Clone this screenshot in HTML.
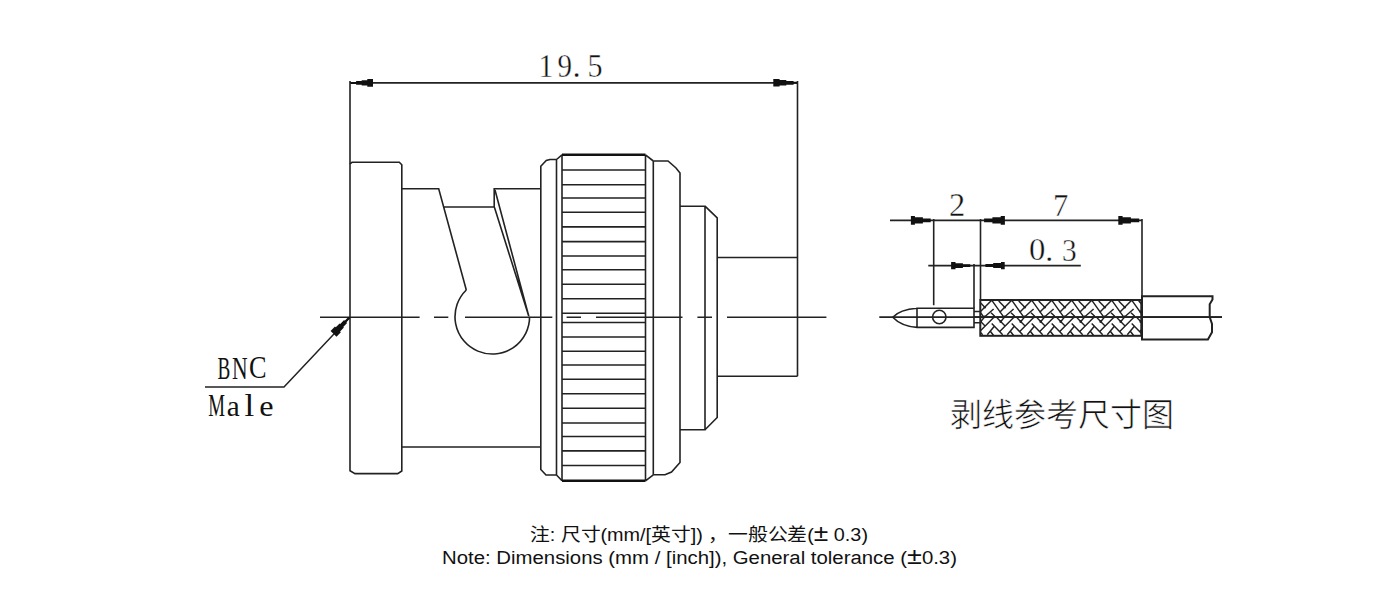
<!DOCTYPE html>
<html><head><meta charset="utf-8">
<style>
html,body{margin:0;padding:0;background:#fff;width:1400px;height:600px;overflow:hidden}
svg{position:absolute;left:0;top:0}
.note{position:absolute;left:0;width:1400px;text-align:center;font-family:"Liberation Sans",sans-serif;color:#222;white-space:pre}
</style></head><body>
<svg width="1400" height="600" viewBox="0 0 1400 600">
<defs>
</defs>
<g fill="none" stroke="#222" stroke-width="1.6" stroke-linecap="butt" stroke-linejoin="miter">
<!-- top dimension -->
<path d="M350,81 V164 M797.5,81 V376.3 M350,82.9 H797.5"/>
<!-- left block -->
<path d="M350,164 L352,162.3 H399.3 L401.8,164.8 V471 L397.7,473.6 H355 L350,470.7 Z"/>
<!-- body -->
<path d="M402,188.8 H438.7 L466.3,290 M444.2,207 H494.2 V188.8 H540.8 M495,190 L528.8,316.3 M494.5,207.5 L528.8,316.3 M402,447 H540.8"/>
<path d="M466.3,290 A37.3,37.3 0 1 0 529.6,316.7"/>
<!-- coupling nut -->
<path d="M556.5,159.5 H550 L546.25,160.5 L540.8,166.25 V469.5 L546,475 H556.5 M556.5,159.5 V475 M556.5,159.5 L562,154.8 M556.5,475 L562,480.8"/>
<path d="M562,154.8 V480.8 M645.5,154.8 V480.8 M645.5,154.8 L653.3,161 M645.5,480.8 L653.3,474.8 M653.3,161 V474.8"/>
<path d="M653.3,161 H668 L676,168 L680,173 V462.5 L671.5,472 L665,474.8 H653.3"/>
<!-- right end -->
<path d="M680,206.2 H705 V429.7 H680 M705,206.2 L717.2,217.8 V417.5 L705,429.7 M717.2,257.5 H797.5 M717.2,376.3 H797.5"/>
</g>
<!-- knurl -->
<g stroke="#222" stroke-width="1.6" fill="none">
<path d="M562,170.0 H645.5 M562,184.8 H645.5 M562,198.0 H645.5 M562,212.2 H645.5 M562,226.9 H645.5 M562,241.6 H645.5 M562,256.0 H645.5 M562,269.8 H645.5 M562,284.3 H645.5 M562,298.8 H645.5 M562,313.2 H645.5 M562,322.5 H645.5 M562,337.0 H645.5 M562,351.2 H645.5 M562,365.0 H645.5 M562,379.3 H645.5 M562,393.8 H645.5 M562,408.3 H645.5 M562,423.0 H645.5 M562,436.5 H645.5 M562,450.9 H645.5 M562,465.5 H645.5"/>
</g>
<g stroke="#111" stroke-width="2.6"><path d="M562,154.8 H645.5 M562,480.8 H645.5"/></g>
<!-- center line -->
<path stroke="#222" stroke-width="1.6" d="M320,317.2 H419.6 M434,317.2 H448.3 M465,317.2 H552.3 M566.6,317.2 H581 M596,317.2 H682.5 M697.4,317.2 H712 M727,317.2 H826.4"/>
<!-- arrowheads -->
<!-- leader -->
<path fill="none" stroke="#222" stroke-width="1.5" d="M205,387 H284 L349,318"/>
<path fill="#111" transform="translate(349.4,317.6) rotate(134.1)" d="M0.0,-1.1 L5.5,-1.1 L5.5,-2.1 L11.0,-2.1 L11.0,-3.0 L16.5,-3.0 L16.5,-4.1 L22.8,-4.1 L22.8,4.1 L16.5,4.1 L16.5,3.0 L11.0,3.0 L11.0,2.1 L5.5,2.1 L5.5,1.1 L0.0,1.1 Z"/>
<g font-family="Liberation Serif" font-size="100" fill="#111" stroke="#fff" stroke-width="1.2">
<text transform="matrix(0.2986,0,0,0.3288,538.56,77.10)">1</text>
<text transform="matrix(0.2907,0,0,0.3288,557.43,76.77)">9</text>
<text transform="matrix(0.3288,0,0,0.3288,572.54,76.77)">.</text>
<text transform="matrix(0.3012,0,0,0.3288,587.39,76.77)">5</text>
<text transform="matrix(0.3250,0,0,0.3269,948.95,216.00)">2</text>
<text transform="matrix(0.3063,0,0,0.3192,1053.11,215.75)">7</text>
<text transform="matrix(0.3274,0,0,0.3172,1028.94,260.37)">0</text>
<text transform="matrix(0.3172,0,0,0.3172,1045.29,260.68)">.</text>
<text transform="matrix(0.2927,0,0,0.3220,1062.04,260.68)">3</text>
</g>
<g font-family="Liberation Serif" font-size="100" fill="#111">
<text transform="matrix(0.1915,0,0,0.3215,217.53,379.00)">B</text>
<text transform="matrix(0.2164,0,0,0.3215,232.10,379.00)">N</text>
<text transform="matrix(0.2632,0,0,0.3119,248.95,378.38)">C</text>
<text transform="matrix(0.1886,0,0,0.3177,208.18,416.25)">M</text>
<text transform="matrix(0.2923,0,0,0.2990,226.83,415.95)">a</text>
<text transform="matrix(0.3500,0,0,0.3080,244.55,416.25)">l</text>
<text transform="matrix(0.3216,0,0,0.2990,259.31,415.95)">e</text>
</g>
<!-- right drawing -->
<g fill="none" stroke="#222" stroke-width="1.6">
<path d="M890,220.4 H1142 M933.7,219 V305.3 M980.5,219 V300 M1142,219 V296 M928.3,265.6 H1080.8 M974,264 V308.3"/>
<path stroke-width="1.6" d="M879.3,317.1 H1222"/>
<path stroke-width="1.6" d="M917,308.2 C906,309 898,311.5 892.75,317.2 C898,322.8 906,326.5 917,327.4 M917,308.2 H974 V327.4 H917 Z M974,311.5 H980.3 M974,322.8 H980.3"/>
<circle cx="939.3" cy="317" r="6.7" stroke-width="1.6"/>
</g>
<clipPath id="bc"><rect x="980.3" y="300" width="161" height="35.8"/></clipPath>
<g clip-path="url(#bc)" fill="none" stroke="#222"><path stroke-width="1.45" d="M958.7,301.0 L964.8,307.2 M971.7,300.2 L959.5,312.5 M971.7,300.2 L983.8,317.1 M964.8,316.7 L973.6,309.0 M971.0,312.7 L974.7,316.3 M973.9,317.2 L959.5,331.7 M957.0,317.7 L965.5,326.4 M960.7,321.8 L963.8,317.9 M971.7,323.4 L982.7,334.8 M973.9,326.7 L967.3,334.8 M970.3,331.2 L973.6,335.5 M978.7,301.0 L984.8,307.2 M991.7,300.2 L979.5,312.5 M991.7,300.2 L1003.8,317.1 M984.8,316.7 L993.6,309.0 M991.0,312.7 L994.7,316.3 M993.9,317.2 L979.5,331.7 M977.0,317.7 L985.5,326.4 M980.7,321.8 L983.8,317.9 M991.7,323.4 L1002.7,334.8 M993.9,326.7 L987.3,334.8 M990.3,331.2 L993.6,335.5 M998.7,301.0 L1004.8,307.2 M1011.7,300.2 L999.5,312.5 M1011.7,300.2 L1023.8,317.1 M1004.8,316.7 L1013.6,309.0 M1011.0,312.7 L1014.7,316.3 M1013.9,317.2 L999.5,331.7 M997.0,317.7 L1005.5,326.4 M1000.7,321.8 L1003.8,317.9 M1011.7,323.4 L1022.7,334.8 M1013.9,326.7 L1007.3,334.8 M1010.3,331.2 L1013.6,335.5 M1018.7,301.0 L1024.8,307.2 M1031.7,300.2 L1019.5,312.5 M1031.7,300.2 L1043.8,317.1 M1024.8,316.7 L1033.6,309.0 M1031.0,312.7 L1034.7,316.3 M1033.9,317.2 L1019.5,331.7 M1017.0,317.7 L1025.5,326.4 M1020.7,321.8 L1023.8,317.9 M1031.7,323.4 L1042.7,334.8 M1033.9,326.7 L1027.3,334.8 M1030.3,331.2 L1033.6,335.5 M1038.7,301.0 L1044.8,307.2 M1051.7,300.2 L1039.5,312.5 M1051.7,300.2 L1063.8,317.1 M1044.8,316.7 L1053.6,309.0 M1051.0,312.7 L1054.7,316.3 M1053.9,317.2 L1039.5,331.7 M1037.0,317.7 L1045.5,326.4 M1040.7,321.8 L1043.8,317.9 M1051.7,323.4 L1062.7,334.8 M1053.9,326.7 L1047.3,334.8 M1050.3,331.2 L1053.6,335.5 M1058.7,301.0 L1064.8,307.2 M1071.7,300.2 L1059.5,312.5 M1071.7,300.2 L1083.8,317.1 M1064.8,316.7 L1073.6,309.0 M1071.0,312.7 L1074.7,316.3 M1073.9,317.2 L1059.5,331.7 M1057.0,317.7 L1065.5,326.4 M1060.7,321.8 L1063.8,317.9 M1071.7,323.4 L1082.7,334.8 M1073.9,326.7 L1067.3,334.8 M1070.3,331.2 L1073.6,335.5 M1078.7,301.0 L1084.8,307.2 M1091.7,300.2 L1079.5,312.5 M1091.7,300.2 L1103.8,317.1 M1084.8,316.7 L1093.6,309.0 M1091.0,312.7 L1094.7,316.3 M1093.9,317.2 L1079.5,331.7 M1077.0,317.7 L1085.5,326.4 M1080.7,321.8 L1083.8,317.9 M1091.7,323.4 L1102.7,334.8 M1093.9,326.7 L1087.3,334.8 M1090.3,331.2 L1093.6,335.5 M1098.7,301.0 L1104.8,307.2 M1111.7,300.2 L1099.5,312.5 M1111.7,300.2 L1123.8,317.1 M1104.8,316.7 L1113.6,309.0 M1111.0,312.7 L1114.7,316.3 M1113.9,317.2 L1099.5,331.7 M1097.0,317.7 L1105.5,326.4 M1100.7,321.8 L1103.8,317.9 M1111.7,323.4 L1122.7,334.8 M1113.9,326.7 L1107.3,334.8 M1110.3,331.2 L1113.6,335.5 M1118.7,301.0 L1124.8,307.2 M1131.7,300.2 L1119.5,312.5 M1131.7,300.2 L1143.8,317.1 M1124.8,316.7 L1133.6,309.0 M1131.0,312.7 L1134.7,316.3 M1133.9,317.2 L1119.5,331.7 M1117.0,317.7 L1125.5,326.4 M1120.7,321.8 L1123.8,317.9 M1131.7,323.4 L1142.7,334.8 M1133.9,326.7 L1127.3,334.8 M1130.3,331.2 L1133.6,335.5 M1138.7,301.0 L1144.8,307.2 M1151.7,300.2 L1139.5,312.5 M1151.7,300.2 L1163.8,317.1 M1144.8,316.7 L1153.6,309.0 M1151.0,312.7 L1154.7,316.3 M1153.9,317.2 L1139.5,331.7 M1137.0,317.7 L1145.5,326.4 M1140.7,321.8 L1143.8,317.9 M1151.7,323.4 L1162.7,334.8 M1153.9,326.7 L1147.3,334.8 M1150.3,331.2 L1153.6,335.5"/><path stroke-width="2.6" stroke-linecap="round" d="M964.8,307.2 h0.01 M971.7,299.8 h0.01 M960.7,321.8 h0.01 M964.4,316.9 h0.01 M973.9,317.0 h0.01 M984.8,307.2 h0.01 M991.7,299.8 h0.01 M980.7,321.8 h0.01 M984.4,316.9 h0.01 M993.9,317.0 h0.01 M1004.8,307.2 h0.01 M1011.7,299.8 h0.01 M1000.7,321.8 h0.01 M1004.4,316.9 h0.01 M1013.9,317.0 h0.01 M1024.8,307.2 h0.01 M1031.7,299.8 h0.01 M1020.7,321.8 h0.01 M1024.4,316.9 h0.01 M1033.9,317.0 h0.01 M1044.8,307.2 h0.01 M1051.7,299.8 h0.01 M1040.7,321.8 h0.01 M1044.4,316.9 h0.01 M1053.9,317.0 h0.01 M1064.8,307.2 h0.01 M1071.7,299.8 h0.01 M1060.7,321.8 h0.01 M1064.4,316.9 h0.01 M1073.9,317.0 h0.01 M1084.8,307.2 h0.01 M1091.7,299.8 h0.01 M1080.7,321.8 h0.01 M1084.4,316.9 h0.01 M1093.9,317.0 h0.01 M1104.8,307.2 h0.01 M1111.7,299.8 h0.01 M1100.7,321.8 h0.01 M1104.4,316.9 h0.01 M1113.9,317.0 h0.01 M1124.8,307.2 h0.01 M1131.7,299.8 h0.01 M1120.7,321.8 h0.01 M1124.4,316.9 h0.01 M1133.9,317.0 h0.01 M1144.8,307.2 h0.01 M1151.7,299.8 h0.01 M1140.7,321.8 h0.01 M1144.4,316.9 h0.01 M1153.9,317.0 h0.01"/></g>
<g fill="none" stroke="#222" stroke-width="1.6">
<rect x="980.3" y="300" width="161" height="35.8" stroke-width="2"/>
<path stroke-width="1.6" d="M974,317.1 H1222"/>
<path stroke-width="2" d="M1142,296.2 H1212.5 V299.5 L1209.7,304.2 V317 L1212,324 V332.2 L1207.9,339.5 H1142 Z"/>
</g>
<text lang="zh-CN" x="950" y="426" font-family="Liberation Serif, serif" font-size="32" fill="#111" stroke="#fff" stroke-width="0.6">剥线参考尺寸图</text>
<g fill="#111">
<path d="M350.7,81.9 L356.1,81.9 L356.1,81.1 L361.7,81.1 L361.7,80.2 L367.3,80.2 L367.3,79.1 L373.0,79.1 L373.0,86.7 L367.3,86.7 L367.3,85.6 L361.7,85.6 L361.7,84.7 L356.1,84.7 L356.1,83.9 L350.7,83.9 Z"/>
<path d="M797.0,81.8 L793.6,81.8 L793.6,80.9 L786.3,80.9 L786.3,80.1 L779.6,80.1 L779.6,79.0 L773.3,79.0 L773.3,86.6 L779.6,86.6 L779.6,85.5 L786.3,85.5 L786.3,84.7 L793.6,84.7 L793.6,83.8 L797.0,83.8 Z"/>
<path d="M930.7,218.6 L922.9,218.6 L922.9,217.2 L914.9,217.2 L914.9,216.1 L910.9,216.1 L910.9,224.7 L914.9,224.7 L914.9,223.6 L922.9,223.6 L922.9,222.2 L930.7,222.2 Z"/>
<path d="M984.1,218.5 L992.4,218.5 L992.4,217.3 L1000.7,217.3 L1000.7,216.1 L1004.9,216.1 L1004.9,224.7 L1000.7,224.7 L1000.7,223.5 L992.4,223.5 L992.4,222.3 L984.1,222.3 Z"/>
<path d="M1139.2,218.5 L1130.9,218.5 L1130.9,217.3 L1122.6,217.3 L1122.6,216.1 L1118.3,216.1 L1118.3,224.7 L1122.6,224.7 L1122.6,223.5 L1130.9,223.5 L1130.9,222.3 L1139.2,222.3 Z"/>
<path d="M970.3,264.3 L962.9,264.3 L962.9,263.2 L955.5,263.2 L955.5,261.9 L951.1,261.9 L951.1,269.3 L955.5,269.3 L955.5,268.0 L962.9,268.0 L962.9,266.9 L970.3,266.9 Z"/>
<path d="M985.4,264.1 L993.2,264.1 L993.2,263.1 L1001.0,263.1 L1001.0,261.9 L1004.7,261.9 L1004.7,269.3 L1001.0,269.3 L1001.0,268.1 L993.2,268.1 L993.2,267.1 L985.4,267.1 Z"/>
</g>
<g font-family="Liberation Sans, sans-serif" font-size="18" fill="#111">
<text lang="zh-CN" x="530" y="540.5" textLength="338" lengthAdjust="spacingAndGlyphs">注: 尺寸(mm/[英寸]) ，一般公差(<tspan font-size="24">±</tspan> 0.3)</text>
<text x="442" y="564.2" textLength="515" lengthAdjust="spacingAndGlyphs">Note: Dimensions (mm / [inch]), General tolerance (<tspan font-size="24">±</tspan>0.3)</text>
</g>
</svg>
</body></html>
